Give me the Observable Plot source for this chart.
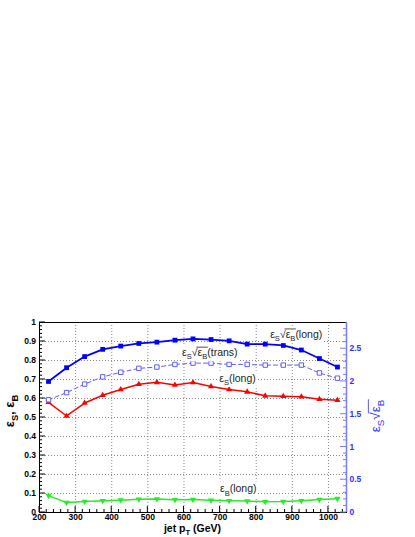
<!DOCTYPE html>
<html><head><meta charset="utf-8">
<script src="https://cdn.jsdelivr.net/npm/d3@7"></script>
<script src="https://cdn.jsdelivr.net/npm/@observablehq/plot@0.6"></script>
<style>html,body{margin:0;padding:0;background:#fff;}</style>
</head><body><div id="chart"></div>
<script>
// ---- data ----
const pt = [225,275,325,375,425,475,525,575,625,675,725,775,825,875,925,975,1025];
// eps_S/sqrt(eps_B) (right axis units)
const sigLong  = [2.00,2.21,2.38,2.49,2.54,2.58,2.60,2.63,2.65,2.64,2.62,2.57,2.57,2.55,2.48,2.35,2.22];
const sigTrans = [1.72,1.83,1.96,2.07,2.14,2.20,2.22,2.26,2.28,2.28,2.26,2.26,2.25,2.25,2.25,2.13,2.05];
// efficiencies (left axis)
const effS = [0.580,0.508,0.576,0.617,0.647,0.675,0.685,0.671,0.684,0.663,0.647,0.635,0.614,0.612,0.609,0.596,0.591];
const effB = [0.089,0.052,0.058,0.062,0.065,0.070,0.071,0.067,0.068,0.064,0.062,0.060,0.057,0.058,0.062,0.068,0.073];
const xTicks = [200,300,400,500,600,700,800,900,1000];
const yTicks = [0,0.1,0.2,0.3,0.4,0.5,0.6,0.7,0.8,0.9,1];
const rTicks = [0,0.5,1,1.5,2,2.5];
const RMAX = 2.9;

const rows = pt.map((p,i)=>({pt:p, sigLong:sigLong[i]/RMAX, sigTrans:sigTrans[i]/RMAX, effS:effS[i], effB:effB[i]}));

const BLUE="#0000ff", LBLUE="#5c5cff", RED="#ff0000", GREEN="#22ee22";
const grid = {stroke:"#888", strokeDasharray:"1,2", strokeWidth:1};
const FONT="'Liberation Sans', Arial, sans-serif";

const chart = Plot.plot({
  width:415, height:537,
  marginTop:322, marginBottom:25, marginLeft:39, marginRight:69,
  style:{fontFamily:FONT, background:"#fff"},
  x:{domain:[200,1050]},
  y:{domain:[0,1]},
  marks:[
    Plot.ruleX(xTicks.filter(d=>d>200), {...grid}),
    Plot.ruleY(yTicks.filter(d=>d>0 && d<1), {...grid}),
    Plot.frame({stroke:"black", strokeWidth:1}),
    Plot.ruleX([1050], {stroke:"#7b7bff", strokeWidth:1.5}),
    Plot.line(rows, {x:"pt", y:"effB", stroke:GREEN, strokeWidth:1.5}),
    Plot.dot(rows, {x:"pt", y:"effB", symbol:"triangle", r:2.3, fill:GREEN, rotate:180}),
    Plot.line(rows, {x:"pt", y:"effS", stroke:RED, strokeWidth:1.5}),
    Plot.dot(rows, {x:"pt", y:"effS", symbol:"triangle", r:2.3, fill:RED}),
    Plot.line(rows, {x:"pt", y:"sigTrans", stroke:LBLUE, strokeWidth:1, strokeDasharray:"4,3"}),
    Plot.dot(rows, {x:"pt", y:"sigTrans", symbol:"square", r:2.5, fill:"white", stroke:LBLUE, strokeWidth:1}),
    Plot.line(rows, {x:"pt", y:"sigLong", stroke:BLUE, strokeWidth:1.8}),
    Plot.dot(rows, {x:"pt", y:"sigLong", symbol:"square", r:2.7, fill:BLUE}),
    Plot.axisX({ticks:xTicks, tickSize:0, tickPadding:1, tickFormat:d=>String(d), label:null,
      fontSize:8.5, fontWeight:"bold", fill:"black"}),
    Plot.axisY({anchor:"left", ticks:yTicks, tickSize:0, tickPadding:3.5,
      tickFormat:d=>(d===0?"0":d===1?"1":d.toFixed(1)), label:null, fontSize:8.5, fontWeight:"bold", fill:"black"}),
    Plot.axisY({anchor:"right", ticks:rTicks.map(v=>v/RMAX), tickSize:0, tickPadding:3,
      tickFormat:d=>String(Math.round(d*RMAX*10)/10), label:null, fontSize:8.5, fontWeight:"bold", fill:"#2f2fff"})
  ]
});
document.getElementById("chart").appendChild(chart);

// ---- tick marks (inward) via the plot's scales ----
const sx = chart.scale("x"), sy = chart.scale("y");
const svg = d3.select(chart);
const tg = svg.append("g");
const X0 = sx.apply(200), X1 = sx.apply(1050), Y0 = sy.apply(0), Y1 = sy.apply(1);
function line(g,x1,y1,x2,y2,c,w){g.append("line").attr("x1",x1).attr("y1",y1).attr("x2",x2).attr("y2",y2).attr("stroke",c).attr("stroke-width",w||1);}
for (let k=0;k<=50;k++){ const v=k/50, L=(k%5===0)?6:3; line(tg,X0,sy.apply(v),X0+L,sy.apply(v),"black"); }
for (let v=200; v<=1040; v+=20){ const L=(v%100===0)?6:3; line(tg,sx.apply(v),Y0,sx.apply(v),Y0-L,"black"); }
for (let k=0;k<=28;k++){ const r=k/10, L=(k%5===0)?6:3; line(tg,X1,sy.apply(r/RMAX),X1-L,sy.apply(r/RMAX),"#7b7bff"); }

// ---- rich text helpers ----
function addParts(t, parts, fs){
  let shift=0;
  parts.forEach(p=>{
    const ts=t.append("tspan").text(p.t);
    const want = p.sub? fs*0.3 : 0;
    if (want!==shift){ ts.attr("dy", want-shift); shift=want; }
    if (p.sub) ts.attr("font-size", fs*0.72);
  });
}
function overline(g, t, i0, i1, fs, color){
  const n=t.node();
  const a=n.getStartPositionOfChar(i0).x, b=n.getEndPositionOfChar(i1).x;
  const yb = +t.attr("y");
  line(g, a-1, yb-fs*0.86, b+0.5, yb-fs*0.86, color, 0.8);
}
function plotLabel(xv, yv, parts, sqrtRange){
  const g=svg.append("g");
  const fs=10.5;
  const t=g.append("text").attr("x",sx.apply(xv)).attr("y",sy.apply(yv)).attr("text-anchor","start")
    .attr("font-size",fs).attr("fill","#222").attr("font-family",FONT);
  addParts(t, parts, fs);
  const bb=t.node().getBBox();
  g.insert("rect","text").attr("x",bb.x-1).attr("y",bb.y-1).attr("width",bb.width+2).attr("height",bb.height+1).attr("fill","white");
  if (sqrtRange) overline(g,t,sqrtRange[0],sqrtRange[1],fs,"#222");
}
const E="\u03b5";
plotLabel(840, 0.916, [{t:E},{t:"S",sub:1},{t:"\u221a"},{t:E},{t:"B",sub:1},{t:"(long)"}], [3,4]);
plotLabel(596, 0.820, [{t:E},{t:"S",sub:1},{t:"\u221a"},{t:E},{t:"B",sub:1},{t:"(trans)"}], [3,4]);
plotLabel(699, 0.686, [{t:E},{t:"S",sub:1},{t:"(long)"}]);
plotLabel(701, 0.103, [{t:E},{t:"B",sub:1},{t:"(long)"}]);

// ---- axis titles ----
const xt = svg.append("text").attr("x",(X0+X1)/2).attr("y",531.5).attr("text-anchor","middle")
  .attr("font-size",10.5).attr("font-weight","bold").attr("fill","black");
addParts(xt,[{t:"jet p"},{t:"T",sub:1},{t:" (GeV)"}],10.5);

const lg = svg.append("g").attr("transform","translate(14,411) rotate(-90)");
const lt = lg.append("text").attr("x",0).attr("y",0).attr("text-anchor","middle")
  .attr("font-size",13).attr("font-weight","bold").attr("fill","black");
addParts(lt,[{t:E},{t:"S",sub:1},{t:", "},{t:E},{t:"B",sub:1}],13);

const rg = svg.append("g").attr("transform","translate(380,416) rotate(-90)");
const rt = rg.append("text").attr("x",0).attr("y",0).attr("text-anchor","middle")
  .attr("font-size",13.5).attr("fill","#2f2fff");
addParts(rt,[{t:E},{t:"S",sub:1},{t:"\u221a"},{t:E},{t:"B",sub:1}],13.5);
overline(rg, rt, 3, 4, 13.5, "#2f2fff");
</script></body></html>
